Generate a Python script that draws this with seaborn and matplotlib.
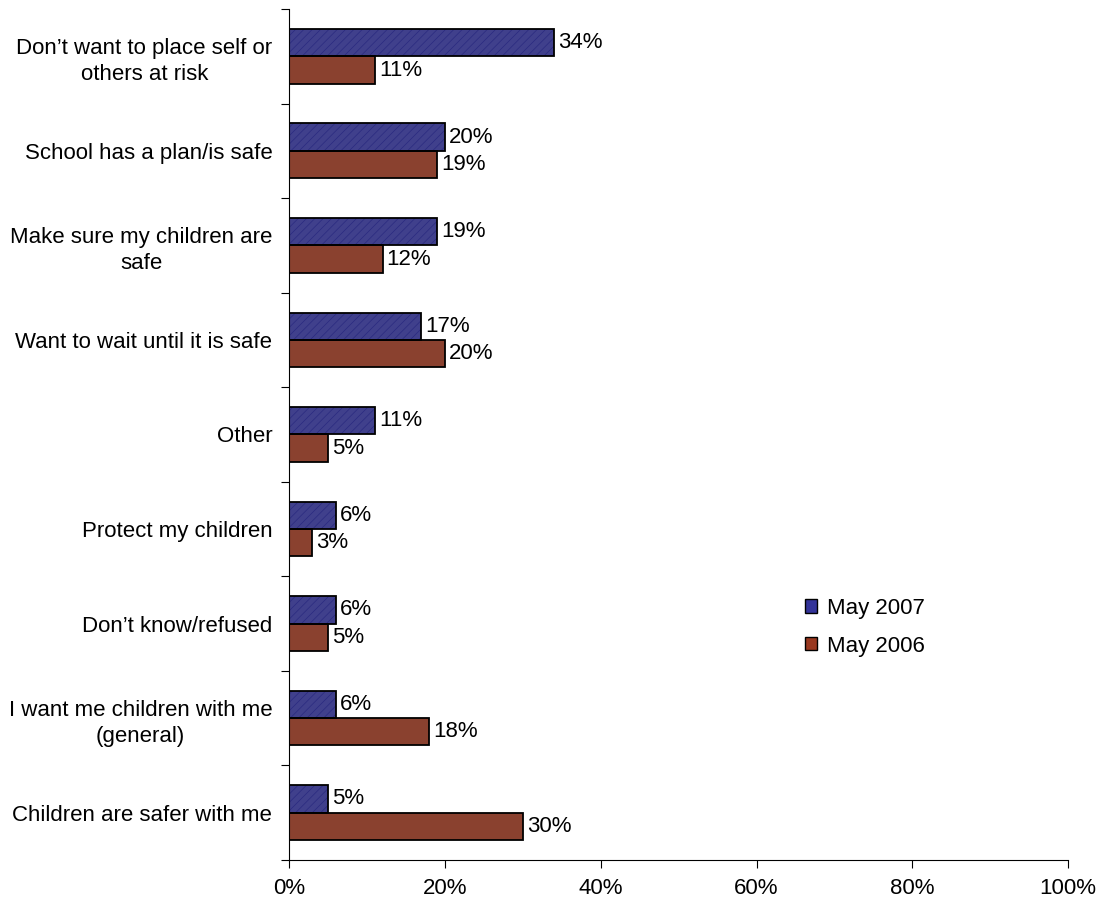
import pandas as pd
import numpy as np
import matplotlib
matplotlib.use('Agg')
import matplotlib.pyplot as plt
from matplotlib.patches import Rectangle
from matplotlib.ticker import FixedLocator, PercentFormatter
import seaborn as sns

# data
reasons = [
    "Don\u2019t want to place self or\nothers at risk",
    "School has a plan/is safe",
    "Make sure my children are\nsafe",
    "Want to wait until it is safe",
    "Other",
    "Protect my children",
    "Don\u2019t know/refused",
    "I want me children with me\n(general)",
    "Children are safer with me",
]
may_2007 = [34, 20, 19, 17, 11, 6, 6, 6, 5]
may_2006 = [11, 19, 12, 20, 5, 3, 5, 18, 30]
series = ['May 2007', 'May 2006']
x_ticks = [0, 20, 40, 60, 80, 100]

COLORS = {'May 2007': '#333399', 'May 2006': '#993820'}
HATCH_COLOR = '#2a2a80'
FS = 16

sns.set_style('white')
plt.rcParams['font.family'] = ['Liberation Sans', 'DejaVu Sans']
plt.rcParams['text.color'] = 'black'
plt.rcParams['xtick.color'] = 'black'
plt.rcParams['ytick.color'] = 'black'
plt.rcParams['hatch.linewidth'] = 0.5

df = pd.DataFrame({
    'reason': reasons * 2,
    'pct': may_2007 + may_2006,
    'year': ['May 2007'] * len(reasons) + ['May 2006'] * len(reasons),
})

fig = plt.figure(figsize=(10.99, 9.07), dpi=100)
ax = fig.add_axes([0.263, 0.052, 0.709, 0.938])

sns.barplot(data=df, y='reason', x='pct', hue='year', hue_order=series,
            palette=COLORS, orient='h', width=0.58, gap=0, ax=ax,
            edgecolor='black', linewidth=1.3, errorbar=None, legend=False)

# hatch the 2007 bars with a faint dark-blue diagonal pattern, keep a black outline
for bar in ax.containers[0]:
    x0, y0 = bar.get_xy()
    bar.set_hatch('////')
    bar.set_edgecolor(HATCH_COLOR)
    bar.set_linewidth(0)
    ax.add_patch(Rectangle((x0, y0), bar.get_width(), bar.get_height(),
                           facecolor='none', edgecolor='black', linewidth=1.3, zorder=3))

for cont in ax.containers:
    ax.bar_label(cont, labels=[f'{v:.0f}%' for v in cont.datavalues],
                 padding=3, fontsize=FS, color='black')

ax.set_xlim(0, 100)
ax.set_ylim(len(reasons) - 0.5, -0.5)
ax.xaxis.set_major_locator(FixedLocator(x_ticks))
ax.xaxis.set_major_formatter(PercentFormatter(decimals=0))
ax.yaxis.set_minor_locator(FixedLocator(np.arange(-0.5, len(reasons), 1)))
ax.tick_params(axis='y', which='major', length=0, pad=12, labelsize=FS)
ax.tick_params(axis='y', which='minor', length=6, width=0.8, direction='out', left=True)
ax.tick_params(axis='x', length=6, width=0.8, direction='out', bottom=True,
               labelsize=FS, pad=7)
for lbl in ax.get_yticklabels():
    lbl.set_horizontalalignment('right')
    lbl.set_multialignment('center')
    lbl.set_linespacing(1.35)
ax.set_xlabel('')
ax.set_ylabel('')
sns.despine(ax=ax)
for s in ['left', 'bottom']:
    ax.spines[s].set_linewidth(0.8)
    ax.spines[s].set_color('black')

handles = [Rectangle((0, 0), 1, 1, facecolor=COLORS[s], edgecolor='black', linewidth=1)
           for s in series]
fig.legend(handles, series, loc='upper left', bbox_to_anchor=(0.718, 0.358),
           frameon=False, fontsize=FS, handlelength=0.55, handleheight=0.55,
           handletextpad=0.45, labelspacing=0.75, borderpad=0.2)

plt.savefig('out.png', dpi=100)
